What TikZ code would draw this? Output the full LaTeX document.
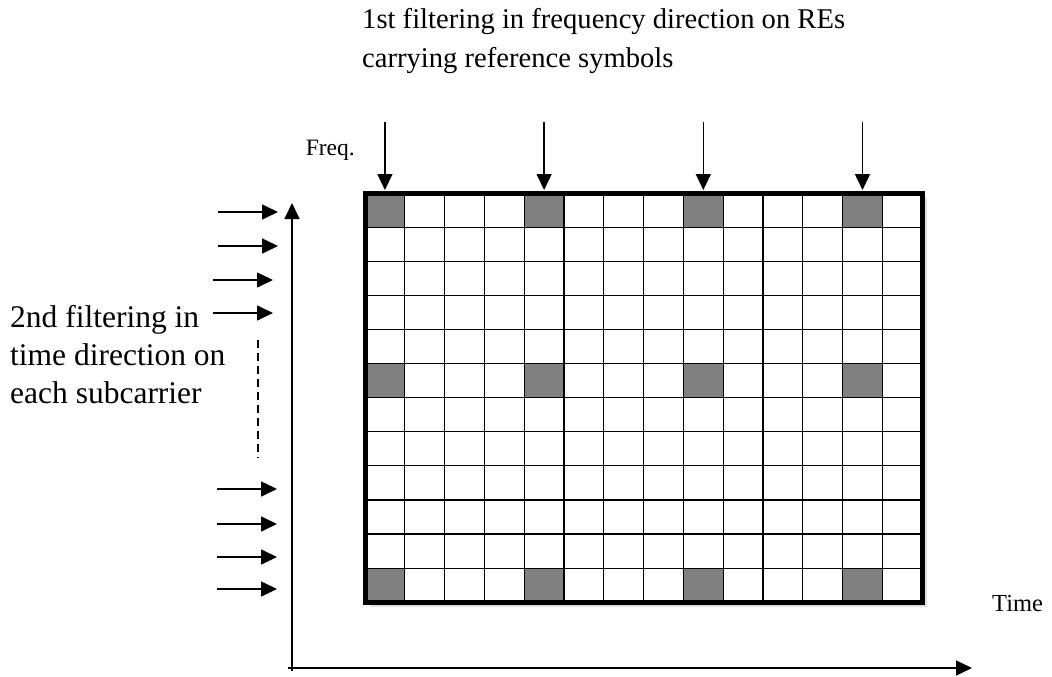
\documentclass[tikz,border=0pt]{standalone}
\usepackage{fontspec}
\setmainfont{Liberation Serif}
\usetikzlibrary{arrows.meta,shadows}
\definecolor{pilotgray}{HTML}{808080}

\begin{document}
\begin{tikzpicture}[x=1pt,y=-1pt,
  arr/.style={line width=1.6pt,-{Triangle[length=16pt,width=15pt]}},
  gridline/.style={draw=black,line width=1.2pt},
  pilot/.style={fill=pilotgray},
  frame/.style={draw=black,line width=5pt},
  lbl/.style={inner sep=0pt,font=\fontsize{23.5}{28}\selectfont},
  note/.style={inner sep=0pt,align=left}]
\useasboundingbox (0,0) rectangle (1052,677);

% resource grid: 14 symbols x 12 subcarriers
\def\cw{39.8}
\def\rh{34.1}
\node[fill=white,minimum width=557.2pt,minimum height=409.2pt,anchor=north west,
      inner sep=0pt,outer sep=0pt,
      drop shadow={opacity=0.25,shadow xshift=5pt,shadow yshift=-5pt}] (grid) at (365,193) {};
\foreach \c in {0,4,8,12}
  \foreach \r in {0,5,11}
    \fill[pilot] (365+\c*\cw,193+\r*\rh) rectangle ++(\cw,\rh);
\foreach \c in {1,...,13}
  \draw[gridline] (365+\c*\cw,193) -- ++(0,409.2);
\foreach \r in {1,...,11}
  \draw[gridline] (365,193+\r*\rh) -- ++(557.2,0);
\draw[frame] (grid.north west) rectangle (grid.south east);

% first filtering: along frequency on reference-symbol columns
\foreach \c [count=\i] in {0,4,8,12} {
  \coordinate (t\i) at (365+\cw/2+\c*\cw,122);
  \draw[arr] (t\i) -- ([yshift=3pt]t\i |- grid.north);
}
\node[note,anchor=base west,font=\fontsize{28.6}{38.5}\selectfont] (top) at (362,67)
  {1st filtering in frequency direction on REs\\carrying reference symbols};

% axes
\coordinate (o) at (292,671);
\coordinate (fy) at (292,203);
\coordinate (ox) at (288,668);
\coordinate (tx) at (972,668);
\draw[arr] (o) -- (fy);
\draw[arr] (ox) -- (tx);
\node[lbl,anchor=base east] (freq) at (355,155) {Freq.};
\node[lbl,anchor=base west,font=\fontsize{24.5}{28}\selectfont] (time) at (992,611) {Time};

% second filtering: along time on every subcarrier
\foreach \y/\xa/\xb [count=\i] in {212/218/278,246/218/278,280/213/273,313/213/273,
                                   489/217/277,524/217/277,557/217/277,589/217/277} {
  \coordinate (s\i) at (\xa,\y);
  \coordinate (e\i) at (\xb,\y);
  \draw[arr] (s\i) -- (e\i);
}
\coordinate (d1) at (258,340);
\coordinate (d2) at (258,458);
\draw[line width=1.3pt,dash pattern=on 8pt off 5pt] (d1) -- (d2);
\node[note,anchor=base west,font=\fontsize{31.5}{38}\selectfont] (left) at (10,403)
  {2nd filtering in\\time direction on\\each subcarrier};
\end{tikzpicture}
\end{document}
